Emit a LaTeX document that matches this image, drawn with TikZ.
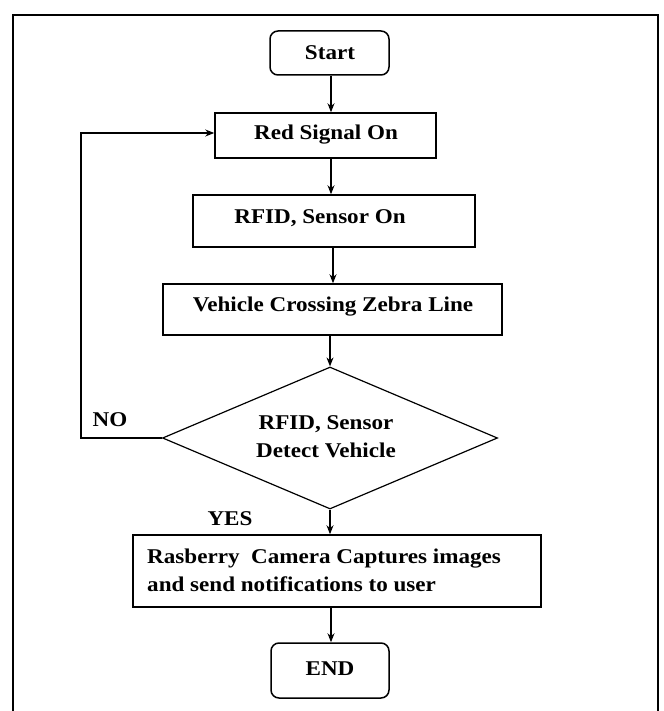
\documentclass[tikz,border=0pt]{standalone}
\usepackage{fontspec}
\setmainfont{Liberation Serif}[FakeStretch=1.1]
\usetikzlibrary{arrows.meta,shapes.geometric}
\begin{document}
\begin{tikzpicture}[x=1pt,y=-1pt,
  box/.style={draw,line width=1.5pt,inner sep=0pt},
  term/.style={box,rounded corners=8pt},
  txt/.style={font=\fontsize{21}{28}\selectfont\bfseries,inner sep=0pt},
  arr/.style={-{Stealth[length=9pt,width=7pt]},line width=1.1pt}
]
\useasboundingbox (0,0) rectangle (663,711);
\draw[line width=2pt] (13,711) -- (13,15) -- (658,15) -- (658,711);

\node[term,minimum width=119pt,minimum height=44pt] (start) at (329.5,53) {};
\node[txt] (tstart) at (330,53) {Start};

\node[box,minimum width=221pt,minimum height=45pt] (red) at (325.5,135.5) {};
\node[txt] (tred) at (326,135) {Red Signal On};

\node[box,minimum width=282pt,minimum height=52pt] (rfid) at (334,221) {};
\node[txt] (trfid) at (320,218) {RFID, Sensor On};

\node[box,minimum width=339pt,minimum height=51pt] (veh) at (332.5,309.5) {};
\node[txt] (tveh) at (333,307) {Vehicle Crossing Zebra Line};

\node[box,shape=diamond,line width=1.2pt,minimum width=335pt,minimum height=142pt] (dec) at (330,438) {};
\node[txt,align=center] (tdec) at (326,437) {RFID, Sensor\\Detect Vehicle};

\node[box,minimum width=408pt,minimum height=72pt] (cam) at (337,571) {};
\node[txt,align=left,anchor=west] (tcam) at (147,570) {Rasberry\ \ Camera Captures images\\and send notifications to user};

\node[term,minimum width=118pt,minimum height=55pt] (end) at (330,670.5) {};
\node[txt] (tend) at (330,669) {END};

\node[txt] (no) at (110,420) {NO};
\node[txt] (yes) at (230,519) {YES};

\coordinate (c1) at (81,438);
\coordinate (c2) at (81,133);
\coordinate (a1) at (331,0);
\coordinate (a2) at (333,0);

\draw[arr] (a1 |- start.south) -- (a1 |- red.north);
\draw[arr] (a1 |- red.south) -- (a1 |- rfid.north);
\draw[arr] (a2 |- rfid.south) -- (a2 |- veh.north);
\draw[arr] (veh.south -| dec.north) -- (dec.north);
\draw[arr] (dec.south) -- (dec.south |- cam.north);
\draw[arr] (a1 |- cam.south) -- (a1 |- end.north);
\draw[arr] (dec.west) -- (c1) -- (c2) -- (red.west |- c2);
\end{tikzpicture}
\end{document}
